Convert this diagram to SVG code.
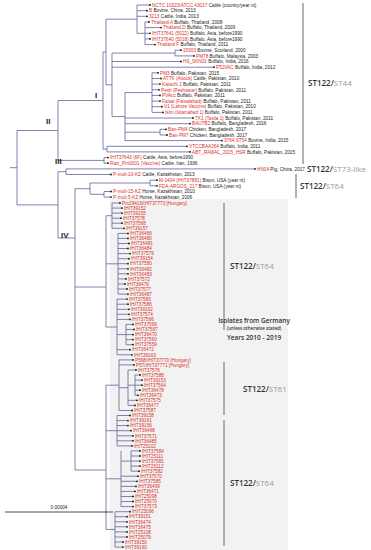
<svg xmlns="http://www.w3.org/2000/svg" width="371" height="550" viewBox="0 0 371 550">
<style>
.t{stroke:#62629c;stroke-width:0.8;fill:none}
.b{stroke:#555;stroke-width:0.9;fill:none}
.l{font-family:"Liberation Sans",Arial,sans-serif;font-size:4.7px;fill:#222}
.r{fill:#d9302a}
.d{fill:#111}
.st{font-family:"Open Sans","Liberation Sans",sans-serif;font-size:8px;font-weight:600;fill:#333}
.g{fill:#9a9a9a;font-weight:400}
.cl{font-family:"Liberation Sans",Arial,sans-serif;font-size:8px;font-weight:bold;fill:#222}
</style>
<rect x="110" y="199" width="178" height="351" fill="#f2f2f2"/>
<g id="connectors">
<path class="t" d="M10 167.7H17M17 130.5V204.9M17 130.5H58M17 204.9H58
M58 100.5V160.4M58 100.5H103M58 160.4H104
M104 157.6V163.2M104 157.6H108M104 163.2H108
M103 52V149.1M103 52H106M103 149.1H107
M107 146.3V151.9M107 146.3H187M107 151.9H190
M106 19.2V84.8M106 19.2H137M106 84.8H112
M137 5V33.3M137 5H150M137 10.7H147M137 16.3H147M137 33.3H145
M145 22V44.6M145 22H149M145 27.6H161M145 33.3H150M145 38.9H150M145 44.6H155
M112 53.1V116.6M112 53.1H175M175 50.2V55.9M175 50.2H181M175 55.9H194M112 61.5H181M112 67.2H214M112 116.6H125
M125 92.6V140.6M125 92.6H152M152 72.8V112.4M152 72.8H158M152 78.5H161M152 84.1H160M152 89.8H159M152 95.4H160M152 101.1H160M152 106.7H162M152 112.4H163
M125 118H193M125 123.7H190M125 132.2H160M160 129.3V135M160 129.3H166M160 135H167M125 140.6H222
M58 171.7V238M58 171.7H66M66 168.9V174.5M66 168.9H255M66 174.5H111
M58 238H75M75 188.7V470M75 188.7H90M90 183V194.3M90 183H150M150 180.2V185.8M150 180.2H157M150 185.8H157M90 194.3H104M104 191.5V197.1M104 191.5H111M104 197.1H111
M75 287H106M106 215.7V327M75 470H106M106 385.2V529.4
M106 215.7H112M112 203V228.3M112 203H120M112 208.1H122M112 213.1H122M112 218.2H121M112 223.2H122M112 228.3H124
M106 263.8H118M118 233.4V294.1M118 233.4H128M118 238.4H128M118 243.5H129M118 248.5H128M118 253.6H130M118 258.7H129M118 263.7H128M118 268.8H128M118 273.8H128M118 278.9H126M118 284H125M118 289H127M118 294.1H128
M106 327H117M117 299.1V354.8M117 299.1H127M117 304.2H128M117 309.3H129M117 314.3H129M117 319.4H130M117 334.6H126M126 324.4V344.7M126 324.4H133M126 329.5H134M126 334.6H133M126 339.6H133M126 344.7H133M117 349.7H130M117 354.8H132
M106 385.2H119M119 359.9V410.5M119 359.9H133M119 364.9H134M119 387.7H128M128 370V405.4M128 370H136M128 385.2H135M135 375V395.3M135 375H140M135 380.1H142M135 385.2H142M135 390.2H140M135 395.3H138M128 400.3H137M128 405.4H135M119 410.5H132
M106 430.7H117M117 415.5V445.9M117 415.5H130M117 420.6H128M117 425.6H128M117 430.7H131M117 435.8H133M117 440.8H133M117 445.9H132
M106 478.8H121M121 450.9V506.6M121 461.1H131M131 450.9V471.2M131 450.9H140M131 456H140M131 461.1H140M131 466.1H140M131 471.2H139M121 476.2H138M121 481.3H137M121 486.4H136M121 491.4H135M121 496.5H133M121 501.5H133M121 506.6H133
M106 529.4H115M115 511.7V547.1M115 511.7H130M115 516.7H127M115 521.8H127M115 526.8H127M115 531.9H127M115 537H127M115 542H123M115 547.1H123"/>
</g>
<g id="brackets">
<path class="b" d="M303 3V164M296 174V198M224 203V330M224 362V415M224 420V546"/>
<path d="M5 512H113" stroke="#222" stroke-width="0.8"/>
</g>
<g id="clade-labels">
<text class="cl" x="95" y="98">I</text>
<text class="cl" x="46" y="124">II</text>
<text class="cl" x="55" y="164">III</text>
<text class="cl" x="61" y="238">IV</text>
</g>
<g id="group-labels">
<text class="st" x="308" y="86">ST122/<tspan class="g">ST44</tspan></text>
<text class="st" x="307" y="172">ST122/<tspan class="g">ST73-like</tspan></text>
<text class="st" x="300" y="189">ST122/<tspan class="g">ST64</tspan></text>
<text class="st" x="230" y="269">ST122/<tspan class="g">ST64</tspan></text>
<text class="st" x="243" y="392">ST122/<tspan class="g">ST61</tspan></text>
<text class="st" x="230" y="486">ST122/<tspan class="g">ST64</tspan></text>
<text class="st" x="254" y="323" text-anchor="middle" style="font-size:6.5px">Isolates from Germany</text>
<text class="st" x="254" y="330" text-anchor="middle" style="font-size:4.5px">(unless otherwise stated)</text>
<text class="st" x="254" y="340" text-anchor="middle" style="font-size:6.5px">Years 2010 - 2019</text>
<text class="l" x="59" y="509" text-anchor="middle">0.00004</text>
</g>
<g id="n1"><circle class="d" cx="150" cy="5" r="0.9"/><text class="l" x="152" y="6.7"><tspan class="r">NCTC 10323/ATCC 43017</tspan> Cattle (country/year nt)</text></g>
<g id="n2"><circle class="d" cx="147" cy="10.7" r="0.9"/><text class="l" x="149" y="12.4"><tspan class="r">B</tspan> Bovine, China, 2013</text></g>
<g id="n3"><circle class="d" cx="147" cy="16.3" r="0.9"/><text class="l" x="149" y="18"><tspan class="r">3213</tspan> Cattle, India, 2013</text></g>
<g id="n4"><circle class="d" cx="149" cy="22" r="0.9"/><text class="l" x="151" y="23.7"><tspan class="r">Thailand A</tspan> Buffalo, Thailand, 2008</text></g>
<g id="n5"><circle class="d" cx="161" cy="27.6" r="0.9"/><text class="l" x="163" y="29.3"><tspan class="r">Thailand D</tspan> Buffalo, Thailand, 2009</text></g>
<g id="n6"><circle class="d" cx="150" cy="33.3" r="0.9"/><text class="l" x="152" y="35"><tspan class="r">IHIT37641 (5022)</tspan> Buffalo, Asia, before1990</text></g>
<g id="n7"><circle class="d" cx="150" cy="38.9" r="0.9"/><text class="l" x="152" y="40.6"><tspan class="r">IHIT37640 (5018)</tspan> Buffalo, Asia, before1990</text></g>
<g id="n8"><circle class="d" cx="155" cy="44.6" r="0.9"/><text class="l" x="157" y="46.3"><tspan class="r">Thailand F</tspan> Buffalo, Thailand, 2011</text></g>
<g id="n9"><circle class="d" cx="181" cy="50.2" r="0.9"/><text class="l" x="183" y="51.9"><tspan class="r">15000</tspan> Bovine, Scotland, 2000</text></g>
<g id="n10"><circle class="d" cx="194" cy="55.9" r="0.9"/><text class="l" x="196" y="57.6"><tspan class="r">PM78</tspan> Buffalo, Malaysia, 2003</text></g>
<g id="n11"><circle class="d" cx="181" cy="61.5" r="0.9"/><text class="l" x="183" y="63.2"><tspan class="r">HS_SKN01</tspan> Buffalo, India, 2016</text></g>
<g id="n12"><circle class="d" cx="214" cy="67.2" r="0.9"/><text class="l" x="216" y="68.9"><tspan class="r">P52VAC</tspan> Buffalo, India, 2012</text></g>
<g id="n13"><circle class="d" cx="158" cy="72.8" r="0.9"/><text class="l" x="160" y="74.5"><tspan class="r">PM3</tspan> Buffalo, Pakistan, 2015</text></g>
<g id="n14"><circle class="d" cx="161" cy="78.5" r="0.9"/><text class="l" x="163" y="80.2"><tspan class="r">ATTK (Attock)</tspan> Cattle, Pakistan, 2010</text></g>
<g id="n15"><circle class="d" cx="160" cy="84.1" r="0.9"/><text class="l" x="162" y="85.8"><tspan class="r">Karachi 2</tspan> Buffalo, Pakistan, 2011</text></g>
<g id="n16"><circle class="d" cx="159" cy="89.8" r="0.9"/><text class="l" x="161" y="91.5"><tspan class="r">Pesh (Peshawar)</tspan> Buffalo, Pakistan, 2011</text></g>
<g id="n17"><circle class="d" cx="160" cy="95.4" r="0.9"/><text class="l" x="162" y="97.1"><tspan class="r">PVAcc</tspan> Buffalo, Pakistan, 2011</text></g>
<g id="n18"><circle class="d" cx="160" cy="101.1" r="0.9"/><text class="l" x="162" y="102.8"><tspan class="r">Faisal (Faisalabad)</tspan> Buffalo, Pakistan, 2011</text></g>
<g id="n19"><circle class="d" cx="162" cy="106.7" r="0.9"/><text class="l" x="164" y="108.4"><tspan class="r">V1 (Lahore Vaccine)</tspan> Buffalo, Pakistan, 2010</text></g>
<g id="n20"><circle class="d" cx="163" cy="112.4" r="0.9"/><text class="l" x="165" y="114.1"><tspan class="r">Islm (Islamabad 1)</tspan> Buffalo, Pakistan, 2011</text></g>
<g id="n21"><circle class="d" cx="193" cy="118" r="0.9"/><text class="l" x="195" y="119.7"><tspan class="r">TX1 (Taxila 1)</tspan> Buffalo, Pakistan, 2011</text></g>
<g id="n22"><circle class="d" cx="190" cy="123.7" r="0.9"/><text class="l" x="192" y="125.4"><tspan class="r">BAUTB2</tspan> Buffalo, Bangladesh, 2016</text></g>
<g id="n23"><circle class="d" cx="166" cy="129.3" r="0.9"/><text class="l" x="168" y="131"><tspan class="r">Ban-PM4</tspan> Chicken, Bangladesh, 2017</text></g>
<g id="n24"><circle class="d" cx="167" cy="135" r="0.9"/><text class="l" x="169" y="136.7"><tspan class="r">Ban-PM7</tspan> Chicken, Bangladesh, 2017</text></g>
<g id="n25"><circle class="d" cx="222" cy="140.6" r="0.9"/><text class="l" x="224" y="142.3"><tspan class="r">3764 ST54</tspan> Bovine, India, 2015</text></g>
<g id="n26"><circle class="d" cx="187" cy="146.3" r="0.9"/><text class="l" x="189" y="148"><tspan class="r">VTCCBAA264</tspan> Buffalo, India, 2011</text></g>
<g id="n27"><circle class="d" cx="190" cy="151.9" r="0.9"/><text class="l" x="192" y="153.6"><tspan class="r">ABT_RAWAL_2015_HSR</tspan> Buffalo, Pakistan, 2015</text></g>
<g id="n28"><circle class="d" cx="108" cy="157.6" r="0.9"/><text class="l" x="110" y="159.3"><tspan class="r">IHIT37643 (6F)</tspan> Cattle, Asia, before1990</text></g>
<g id="n29"><circle class="d" cx="108" cy="163.2" r="0.9"/><text class="l" x="110" y="164.9"><tspan class="r">Razi_Pm0001 (Vaccine)</tspan> Cattle, Iran, 1936</text></g>
<g id="n30"><circle class="d" cx="255" cy="168.9" r="0.9"/><text class="l" x="257" y="170.6"><tspan class="r">HN04</tspan> Pig, China, 2017</text></g>
<g id="n31"><circle class="d" cx="111" cy="174.5" r="0.9"/><text class="l" x="113" y="176.2"><tspan class="r">P-mult-10-KZ</tspan> Cattle, Kazakhstan, 2013</text></g>
<g id="n32"><circle class="d" cx="157" cy="180.2" r="0.9"/><text class="l" x="159" y="181.9"><tspan class="r">M-1404 (IHIT37881)</tspan> Bison, USA (year nt)</text></g>
<g id="n33"><circle class="d" cx="157" cy="185.8" r="0.9"/><text class="l" x="159" y="187.5"><tspan class="r">FDA-ARGOS_217</tspan> Bison, USA (year nt)</text></g>
<g id="n34"><circle class="d" cx="111" cy="191.5" r="0.9"/><text class="l" x="113" y="193.2"><tspan class="r">P-mult-15-KZ</tspan> Horse, Kazakhstan, 2010</text></g>
<g id="n35"><circle class="d" cx="111" cy="197.1" r="0.9"/><text class="l" x="113" y="198.8"><tspan class="r">P-mult-5-KZ</tspan> Horse, Kazakhstan, 2006</text></g>
<g id="n36"><circle class="d" cx="120" cy="203" r="0.9"/><text class="l r" x="122" y="204.7">Pm29419/IHIT37773 [Hungary]</text></g>
<g id="n37"><circle class="d" cx="122" cy="208.1" r="0.9"/><text class="l r" x="124" y="209.8">IHIT39152</text></g>
<g id="n38"><circle class="d" cx="122" cy="213.1" r="0.9"/><text class="l r" x="124" y="214.8">IHIT39155</text></g>
<g id="n39"><circle class="d" cx="121" cy="218.2" r="0.9"/><text class="l r" x="123" y="219.9">IHIT37578</text></g>
<g id="n40"><circle class="d" cx="122" cy="223.2" r="0.9"/><text class="l r" x="124" y="224.9">IHIT37568</text></g>
<g id="n41"><circle class="d" cx="124" cy="228.3" r="0.9"/><text class="l r" x="126" y="230">IHIT39157</text></g>
<g id="n42"><circle class="d" cx="128" cy="233.4" r="0.9"/><text class="l r" x="130" y="235.1">IHIT36466</text></g>
<g id="n43"><circle class="d" cx="128" cy="238.4" r="0.9"/><text class="l r" x="130" y="240.1">IHIT36480</text></g>
<g id="n44"><circle class="d" cx="129" cy="243.5" r="0.9"/><text class="l r" x="131" y="245.2">IHIT36481</text></g>
<g id="n45"><circle class="d" cx="128" cy="248.5" r="0.9"/><text class="l r" x="130" y="250.2">IHIT36484</text></g>
<g id="n46"><circle class="d" cx="130" cy="253.6" r="0.9"/><text class="l r" x="132" y="255.3">IHIT37579</text></g>
<g id="n47"><circle class="d" cx="129" cy="258.7" r="0.9"/><text class="l r" x="131" y="260.4">IHIT39154</text></g>
<g id="n48"><circle class="d" cx="128" cy="263.7" r="0.9"/><text class="l r" x="130" y="265.4">IHIT37580</text></g>
<g id="n49"><circle class="d" cx="128" cy="268.8" r="0.9"/><text class="l r" x="130" y="270.5">IHIT36482</text></g>
<g id="n50"><circle class="d" cx="128" cy="273.8" r="0.9"/><text class="l r" x="130" y="275.5">IHIT36483</text></g>
<g id="n51"><circle class="d" cx="126" cy="278.9" r="0.9"/><text class="l r" x="128" y="280.6">IHIT37572</text></g>
<g id="n52"><circle class="d" cx="125" cy="284" r="0.9"/><text class="l r" x="127" y="285.7">IHIT36479</text></g>
<g id="n53"><circle class="d" cx="127" cy="289" r="0.9"/><text class="l r" x="129" y="290.7">IHIT37577</text></g>
<g id="n54"><circle class="d" cx="128" cy="294.1" r="0.9"/><text class="l r" x="130" y="295.8">IHIT36487</text></g>
<g id="n55"><circle class="d" cx="127" cy="299.1" r="0.9"/><text class="l r" x="129" y="300.8">IHIT37583</text></g>
<g id="n56"><circle class="d" cx="128" cy="304.2" r="0.9"/><text class="l r" x="130" y="305.9">IHIT37586</text></g>
<g id="n57"><circle class="d" cx="129" cy="309.3" r="0.9"/><text class="l r" x="131" y="311">IHIT39162</text></g>
<g id="n58"><circle class="d" cx="129" cy="314.3" r="0.9"/><text class="l r" x="131" y="316">IHIT37574</text></g>
<g id="n59"><circle class="d" cx="130" cy="319.4" r="0.9"/><text class="l r" x="132" y="321.1">IHIT37566</text></g>
<g id="n60"><circle class="d" cx="133" cy="324.4" r="0.9"/><text class="l r" x="135" y="326.1">IHIT37569</text></g>
<g id="n61"><circle class="d" cx="134" cy="329.5" r="0.9"/><text class="l r" x="136" y="331.2">IHIT37567</text></g>
<g id="n62"><circle class="d" cx="133" cy="334.6" r="0.9"/><text class="l r" x="135" y="336.3">IHIT36470</text></g>
<g id="n63"><circle class="d" cx="133" cy="339.6" r="0.9"/><text class="l r" x="135" y="341.3">IHIT37560</text></g>
<g id="n64"><circle class="d" cx="133" cy="344.7" r="0.9"/><text class="l r" x="135" y="346.4">IHIT37559</text></g>
<g id="n65"><circle class="d" cx="130" cy="349.7" r="0.9"/><text class="l r" x="132" y="351.4">IHIT36472</text></g>
<g id="n66"><circle class="d" cx="132" cy="354.8" r="0.9"/><text class="l r" x="134" y="356.5">IHIT39163</text></g>
<g id="n67"><circle class="d" cx="133" cy="359.9" r="0.9"/><text class="l r" x="135" y="361.6">P568/IHIT37770 [Hungary]</text></g>
<g id="n68"><circle class="d" cx="134" cy="364.9" r="0.9"/><text class="l r" x="136" y="366.6">P57/IHIT37771 [Hungary]</text></g>
<g id="n69"><circle class="d" cx="136" cy="370" r="0.9"/><text class="l r" x="138" y="371.7">IHIT37576</text></g>
<g id="n70"><circle class="d" cx="140" cy="375" r="0.9"/><text class="l r" x="142" y="376.7">IHIT37588</text></g>
<g id="n71"><circle class="d" cx="142" cy="380.1" r="0.9"/><text class="l r" x="144" y="381.8">IHIT39153</text></g>
<g id="n72"><circle class="d" cx="142" cy="385.2" r="0.9"/><text class="l r" x="144" y="386.9">IHIT37564</text></g>
<g id="n73"><circle class="d" cx="140" cy="390.2" r="0.9"/><text class="l r" x="142" y="391.9">IHIT36478</text></g>
<g id="n74"><circle class="d" cx="138" cy="395.3" r="0.9"/><text class="l r" x="140" y="397">IHIT36473</text></g>
<g id="n75"><circle class="d" cx="137" cy="400.3" r="0.9"/><text class="l r" x="139" y="402">IHIT37575</text></g>
<g id="n76"><circle class="d" cx="135" cy="405.4" r="0.9"/><text class="l r" x="137" y="407.1">IHIT36477</text></g>
<g id="n77"><circle class="d" cx="132" cy="410.5" r="0.9"/><text class="l r" x="134" y="412.2">IHIT37587</text></g>
<g id="n78"><circle class="d" cx="130" cy="415.5" r="0.9"/><text class="l r" x="132" y="417.2">IHIT39158</text></g>
<g id="n79"><circle class="d" cx="128" cy="420.6" r="0.9"/><text class="l r" x="130" y="422.3">IHIT39161</text></g>
<g id="n80"><circle class="d" cx="128" cy="425.6" r="0.9"/><text class="l r" x="130" y="427.3">IHIT39156</text></g>
<g id="n81"><circle class="d" cx="131" cy="430.7" r="0.9"/><text class="l r" x="133" y="432.4">IHIT36468</text></g>
<g id="n82"><circle class="d" cx="133" cy="435.8" r="0.9"/><text class="l r" x="135" y="437.5">IHIT37571</text></g>
<g id="n83"><circle class="d" cx="133" cy="440.8" r="0.9"/><text class="l r" x="135" y="442.5">IHIT36485</text></g>
<g id="n84"><circle class="d" cx="132" cy="445.9" r="0.9"/><text class="l r" x="134" y="447.6">IHIT25102</text></g>
<g id="n85"><circle class="d" cx="140" cy="450.9" r="0.9"/><text class="l r" x="142" y="452.6">IHIT37584</text></g>
<g id="n86"><circle class="d" cx="140" cy="456" r="0.9"/><text class="l r" x="142" y="457.7">IHIT25111</text></g>
<g id="n87"><circle class="d" cx="140" cy="461.1" r="0.9"/><text class="l r" x="142" y="462.8">IHIT37581</text></g>
<g id="n88"><circle class="d" cx="140" cy="466.1" r="0.9"/><text class="l r" x="142" y="467.8">IHIT25112</text></g>
<g id="n89"><circle class="d" cx="139" cy="471.2" r="0.9"/><text class="l r" x="141" y="472.9">IHIT37582</text></g>
<g id="n90"><circle class="d" cx="138" cy="476.2" r="0.9"/><text class="l r" x="140" y="477.9">IHIT37570</text></g>
<g id="n91"><circle class="d" cx="137" cy="481.3" r="0.9"/><text class="l r" x="139" y="483">IHIT37585</text></g>
<g id="n92"><circle class="d" cx="136" cy="486.4" r="0.9"/><text class="l r" x="138" y="488.1">IHIT36469</text></g>
<g id="n93"><circle class="d" cx="135" cy="491.4" r="0.9"/><text class="l r" x="137" y="493.1">IHIT36471</text></g>
<g id="n94"><circle class="d" cx="133" cy="496.5" r="0.9"/><text class="l r" x="135" y="498.2">IHIT25098</text></g>
<g id="n95"><circle class="d" cx="133" cy="501.5" r="0.9"/><text class="l r" x="135" y="503.2">IHIT25070</text></g>
<g id="n96"><circle class="d" cx="133" cy="506.6" r="0.9"/><text class="l r" x="135" y="508.3">IHIT37573</text></g>
<g id="n97"><circle class="d" cx="130" cy="511.7" r="0.9"/><text class="l r" x="132" y="513.4">IHIT25096</text></g>
<g id="n98"><circle class="d" cx="127" cy="516.7" r="0.9"/><text class="l r" x="129" y="518.4">IHIT39151</text></g>
<g id="n99"><circle class="d" cx="127" cy="521.8" r="0.9"/><text class="l r" x="129" y="523.5">IHIT36474</text></g>
<g id="n100"><circle class="d" cx="127" cy="526.8" r="0.9"/><text class="l r" x="129" y="528.5">IHIT36475</text></g>
<g id="n101"><circle class="d" cx="127" cy="531.9" r="0.9"/><text class="l r" x="129" y="533.6">IHIT25108</text></g>
<g id="n102"><circle class="d" cx="127" cy="537" r="0.9"/><text class="l r" x="129" y="538.7">IHIT25079</text></g>
<g id="n103"><circle class="d" cx="123" cy="542" r="0.9"/><text class="l r" x="125" y="543.7">IHIT39150</text></g>
<g id="n104"><circle class="d" cx="123" cy="547.1" r="0.9"/><text class="l r" x="125" y="548.8">IHIT39160</text></g>
</svg>
